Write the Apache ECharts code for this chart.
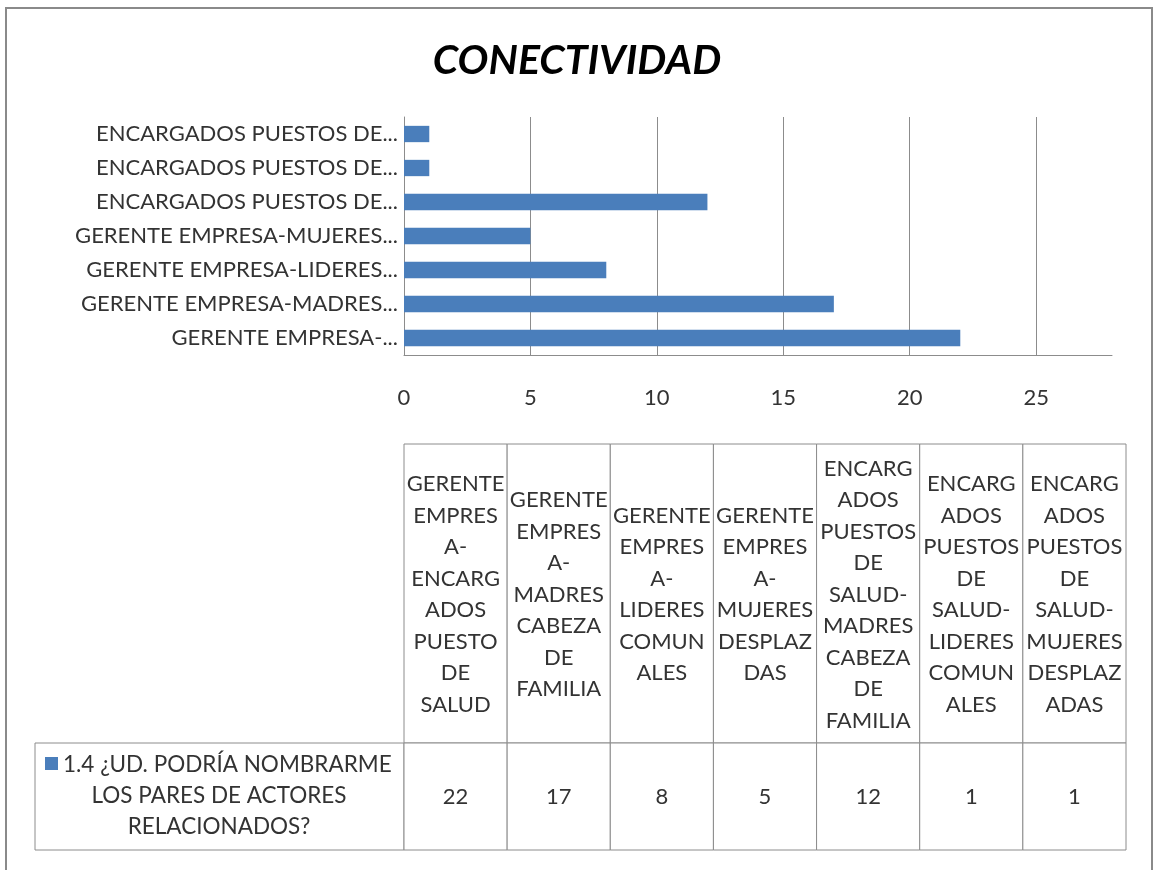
<!DOCTYPE html>
<html>
<head>
<meta charset="utf-8">
<script src="https://cdn.jsdelivr.net/npm/echarts@6/dist/echarts.min.js"></script>
<style>
  body { margin: 0; background: #fff; }
  #chart { width: 1154px; height: 870px; }
</style>
</head>
<body>
<div id="chart"></div>
<script>
  // datos
  const categorias = [
    'GERENTE EMPRESA-ENCARGADOS PUESTO DE SALUD',
    'GERENTE EMPRESA-MADRES CABEZA DE FAMILIA',
    'GERENTE EMPRESA-LIDERES COMUNALES',
    'GERENTE EMPRESA-MUJERES DESPLAZADAS',
    'ENCARGADOS PUESTOS DE SALUD-MADRES CABEZA DE FAMILIA',
    'ENCARGADOS PUESTOS DE SALUD-LIDERES COMUNALES',
    'ENCARGADOS PUESTOS DE SALUD-MUJERES DESPLAZADAS'
  ];
  const etiquetasCortas = [
    'GERENTE EMPRESA-...',
    'GERENTE EMPRESA-MADRES...',
    'GERENTE EMPRESA-LIDERES...',
    'GERENTE EMPRESA-MUJERES...',
    'ENCARGADOS PUESTOS DE...',
    'ENCARGADOS PUESTOS DE...',
    'ENCARGADOS PUESTOS DE...'
  ];
  // encabezados de la tabla, partidos como en el original
  const encabezados = [
    ['GERENTE', 'EMPRES', 'A-', 'ENCARG', 'ADOS', 'PUESTO', 'DE', 'SALUD'],
    ['GERENTE', 'EMPRES', 'A-', 'MADRES', 'CABEZA', 'DE', 'FAMILIA'],
    ['GERENTE', 'EMPRES', 'A-', 'LIDERES', 'COMUN', 'ALES'],
    ['GERENTE', 'EMPRES', 'A-', 'MUJERES', 'DESPLAZ', 'DAS'],
    ['ENCARG', 'ADOS', 'PUESTOS', 'DE', 'SALUD-', 'MADRES', 'CABEZA', 'DE', 'FAMILIA'],
    ['ENCARG', 'ADOS', 'PUESTOS', 'DE', 'SALUD-', 'LIDERES', 'COMUN', 'ALES'],
    ['ENCARG', 'ADOS', 'PUESTOS', 'DE', 'SALUD-', 'MUJERES', 'DESPLAZ', 'ADAS']
  ];
  const valores = [22, 17, 8, 5, 12, 1, 1];
  const nombreSerie = '1.4 ¿UD. PODRÍA NOMBRARME LOS PARES DE ACTORES RELACIONADOS?';
  const lineasSerie = ['1.4 ¿UD. PODRÍA NOMBRARME', 'LOS PARES DE ACTORES', 'RELACIONADOS?'];

  const azul = '#4a7ebb';
  const gris = '#8c8c8c';
  const texto = '#333333';
  const fuente = 'Lato';

  let ec = echarts.init(document.getElementById('chart'));

  // alto de la fila de encabezados dentro de la tabla
  const altoEnc = 299;

  let option = {
    animation: false,
    textStyle: { fontFamily: fuente },
    title: {
      text: 'CONECTIVIDAD',
      left: 'center',
      top: 35,
      textStyle: {
        fontFamily: fuente,
        fontSize: 41,
        fontWeight: 'bold',
        fontStyle: 'italic',
        color: '#000'
      }
    },
    grid: [
      { left: 404, right: 42, top: 117, height: 238 },
      { left: 404, right: 28, top: 444, height: 406 }
    ],
    xAxis: [{
      type: 'value',
      min: 0,
      max: 28,
      interval: 5,
      axisLine: { show: true, lineStyle: { color: gris } },
      axisTick: { show: false },
      splitLine: { show: true, showMaxLine: false, lineStyle: { color: gris, width: 1 } },
      axisLabel: {
        fontSize: 22,
        color: texto,
        margin: 32,
        showMaxLabel: false
      }
    }, {
      type: 'category',
      gridIndex: 1,
      data: categorias,
      show: false
    }],
    yAxis: [{
      type: 'category',
      data: categorias,
      axisLine: { show: true, lineStyle: { color: gris } },
      axisTick: { show: false },
      axisLabel: {
        fontSize: 22,
        color: texto,
        margin: 6,
        formatter: function (v, i) { return etiquetasCortas[i]; }
      }
    }, {
      type: 'value',
      gridIndex: 1,
      min: 0,
      max: 1,
      show: false
    }],
    series: [{
      name: nombreSerie,
      type: 'bar',
      barWidth: '48%',
      itemStyle: { color: azul },
      data: valores
    }, {
      // tabla de datos debajo del grafico
      name: nombreSerie,
      type: 'custom',
      xAxisIndex: 1,
      yAxisIndex: 1,
      data: valores.map(function (v, i) { return [i, v]; }),
      renderItem: function (params, api) {
        let i = api.value(0);
        let cx = api.coord([i, 0])[0];
        let ancho = api.size([1, 0])[0];
        let cs = params.coordSys;
        let x0 = cx - ancho / 2;
        let yFila = cs.y + altoEnc;
        return {
          type: 'group',
          children: [{
            type: 'rect',
            shape: { x: x0, y: cs.y, width: ancho, height: altoEnc },
            style: { fill: '#fff', stroke: gris, lineWidth: 1 }
          }, {
            type: 'rect',
            shape: { x: x0, y: yFila, width: ancho, height: cs.height - altoEnc },
            style: { fill: '#fff', stroke: gris, lineWidth: 1 }
          }, {
            type: 'text',
            style: {
              text: encabezados[i].join('\n'),
              x: cx,
              y: cs.y + altoEnc / 2 + 1,
              align: 'center',
              verticalAlign: 'middle',
              fontFamily: fuente,
              fontSize: 22,
              lineHeight: 31.5,
              fill: texto
            }
          }, {
            type: 'text',
            style: {
              text: String(api.value(1)),
              x: cx,
              y: yFila + (cs.height - altoEnc) / 2,
              align: 'center',
              verticalAlign: 'middle',
              fontFamily: fuente,
              fontSize: 22,
              fill: texto
            }
          }]
        };
      }
    }],
    graphic: [{
      // marco exterior
      type: 'rect',
      shape: { x: 6, y: 8, width: 1146, height: 900 },
      style: { fill: 'none', stroke: '#8a8a8a', lineWidth: 2 },
      z: 0
    }, {
      // celda de la leyenda
      type: 'rect',
      shape: { x: 35, y: 743, width: 369, height: 107 },
      style: { fill: '#fff', stroke: gris, lineWidth: 1 }
    }, {
      type: 'rect',
      shape: { x: 45, y: 757, width: 13, height: 13 },
      style: { fill: azul }
    }, {
      type: 'text',
      style: {
        text: lineasSerie[0],
        x: 63,
        y: 765,
        align: 'left',
        verticalAlign: 'middle',
        fontFamily: fuente,
        fontSize: 22.5,
        fill: texto
      }
    }, {
      type: 'text',
      style: {
        text: lineasSerie.slice(1).join('\n'),
        x: 219,
        y: 811,
        align: 'center',
        verticalAlign: 'middle',
        fontFamily: fuente,
        fontSize: 22.5,
        lineHeight: 31,
        fill: texto
      }
    }]
  };

  ec.setOption(option);
</script>
</body>
</html>
